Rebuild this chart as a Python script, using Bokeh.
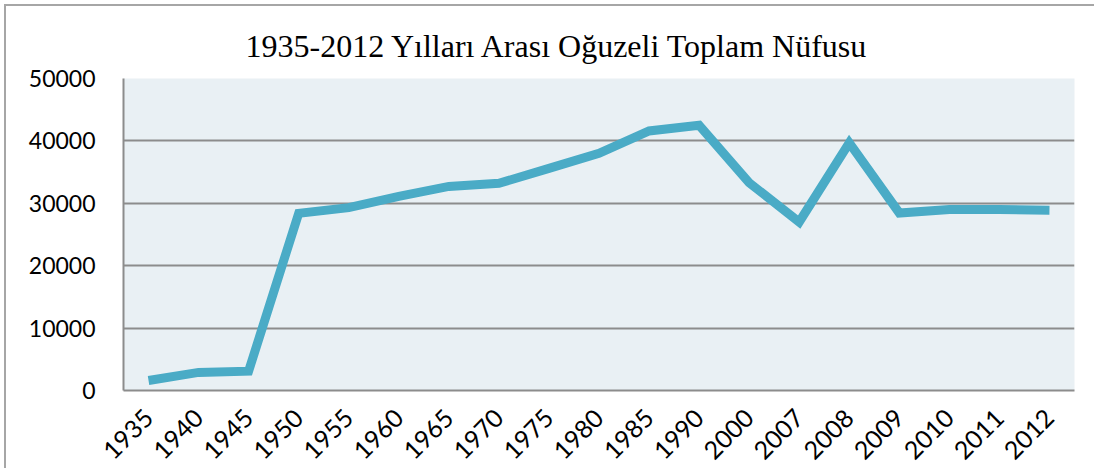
import math
from bokeh.plotting import figure
from bokeh.models import FactorRange, Range1d, SingleIntervalTicker, Title
from bokeh.embed import file_html
from bokeh.resources import INLINE

years = ["1935", "1940", "1945", "1950", "1955", "1960", "1965", "1970", "1975",
         "1980", "1985", "1990", "2000", "2007", "2008", "2009", "2010", "2011", "2012"]
population = [1600, 2900, 3100, 28400, 29300, 31100, 32700, 33200, 35600,
              38000, 41600, 42500, 33300, 27000, 39700, 28450, 29000, 29000, 28900]

title_text = "1935-2012 Yılları Arası Oğuzeli Toplam Nüfusu"

p = figure(x_range=FactorRange(factors=years, range_padding=0),
           y_range=Range1d(0, 50000),
           width=1090, height=464, output_backend="svg", toolbar_location=None,
           min_border_left=117, min_border_right=22, min_border_top=72, min_border_bottom=80,
           background_fill_color="#e9f0f4", border_fill_color="white",
           outline_line_color=None,
           styles={"border-left": "2px solid #a6a6a6", "border-top": "2px solid #a6a6a6",
                   "margin-left": "4px", "margin-top": "4px"})

p.title = Title(text=title_text, align="left", offset=122, standoff=29,
                text_font="Liberation Serif", text_font_size="32px",
                text_font_style="normal", text_color="black")

p.line(x=years, y=population, line_color="#4aabc6", line_width=9, line_join="miter")

p.yaxis.ticker = SingleIntervalTicker(interval=10000)
p.yaxis.major_tick_in = 0
p.yaxis.major_tick_out = 0
p.yaxis.minor_tick_line_color = None
p.yaxis.major_label_standoff = 24
p.yaxis.axis_line_color = "#8c8c8c"
p.yaxis.axis_line_width = 2
p.yaxis.major_label_text_font = "Lato"
p.yaxis.major_label_text_font_size = "23px"
p.yaxis.major_label_text_color = "black"

p.xaxis.major_tick_in = 0
p.xaxis.major_tick_out = 0
p.xaxis.major_label_standoff = 23
p.xaxis.major_label_orientation = math.pi / 4
p.xaxis.axis_line_color = "#8c8c8c"
p.xaxis.axis_line_width = 2
p.xaxis.major_label_text_font = "Lato"
p.xaxis.major_label_text_font_size = "25px"
p.xaxis.major_label_text_color = "black"

p.xgrid.grid_line_color = None
p.ygrid.grid_line_color = "#8c8c8c"
p.ygrid.grid_line_width = 2

open("out.html", "w").write(file_html(p, INLINE))
